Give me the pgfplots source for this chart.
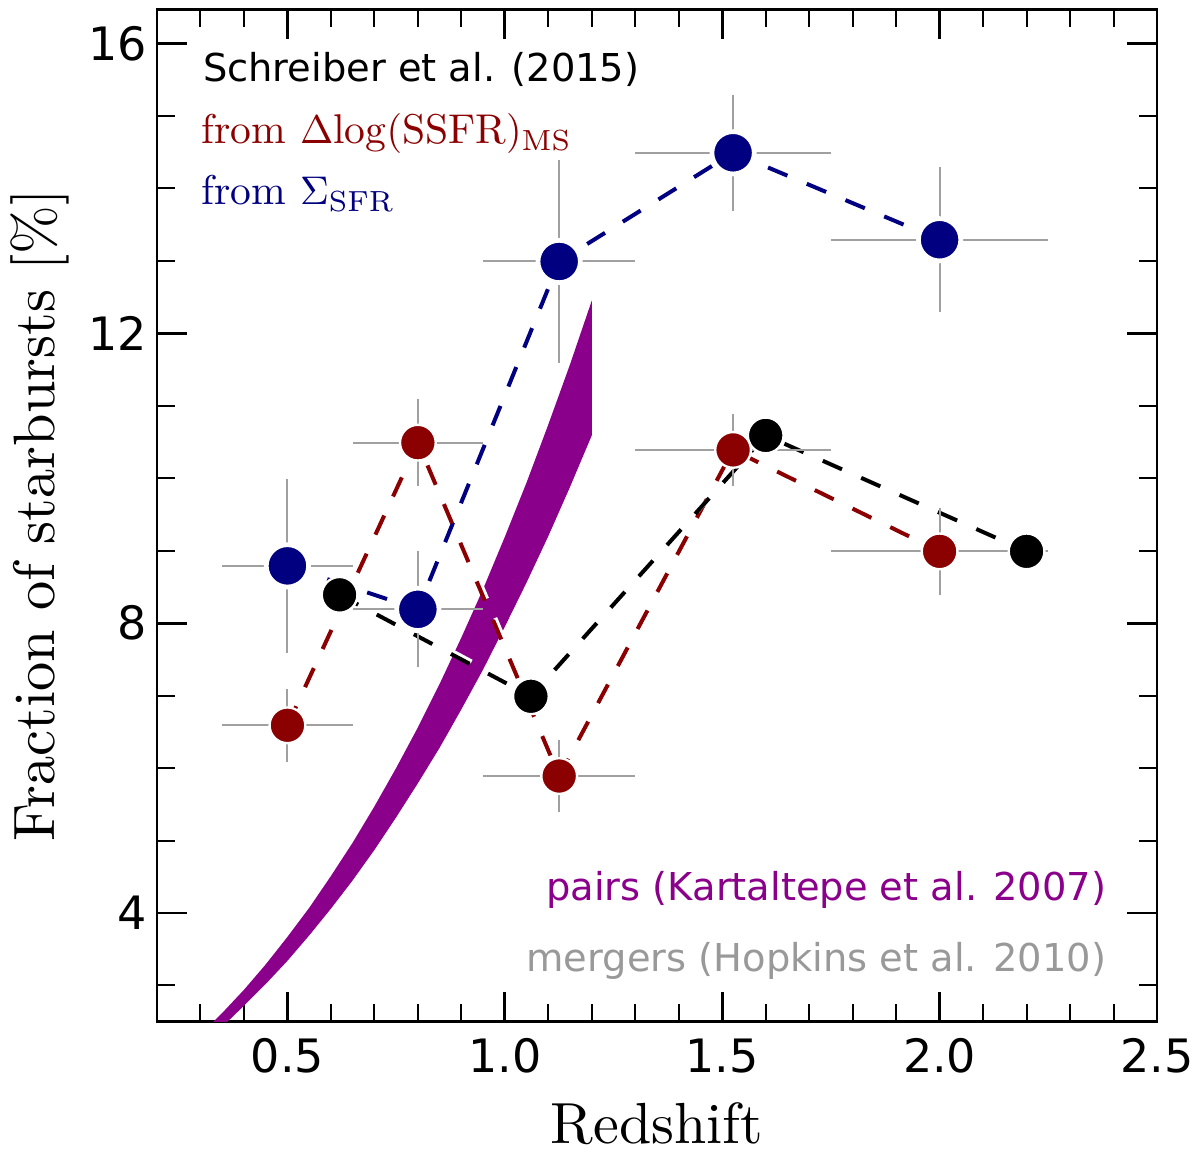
\documentclass[border=0pt]{standalone}
\usepackage{fontspec}
\setsansfont{DejaVu Sans}
\newfontfamily\cmten[Extension=.otf]{lmroman10-regular}
\usepackage{pgfplots}
\pgfplotsset{compat=1.18}
\definecolor{navyc}{RGB}{0,0,128}
\definecolor{redc}{RGB}{139,0,0}
\definecolor{purc}{RGB}{139,0,139}
\definecolor{errc}{RGB}{160,160,160}
\definecolor{txtgray}{RGB}{153,153,153}
\begin{document}
\begin{tikzpicture}
\begin{axis}[
  scale only axis, width=250pt, height=253.1pt,
  xmin=0.2, xmax=2.5, ymin=2.5, ymax=16.47,
  axis line style={line width=0.7pt},
  xtick={0.5,1.0,1.5,2.0,2.5}, xticklabels={0.5,1.0,1.5,2.0,2.5},
  ytick={4,8,12,16}, yticklabels={4,8,12,16},
  minor xtick={0.3,0.4,0.6,0.7,0.8,0.9,1.1,1.2,1.3,1.4,1.6,1.7,1.8,1.9,2.1,2.2,2.3,2.4},
  minor ytick={3,5,6,7,9,10,11,13,14,15},
  tick align=inside, tick pos=both,
  major tick length=7.5pt, minor tick length=4.5pt,
  every major tick/.append style={line width=0.7pt, black},
  every minor tick/.append style={line width=0.5pt, black},
  ticklabel style={font=\fontsize{11.5}{13}\sffamily},
  xticklabel style={anchor=base, yshift=-12.7pt},
  yticklabel style={anchor=east, inner xsep=0pt, xshift=-2.25pt},
  xlabel={Redshift},
  xlabel style={font=\cmten\fontsize{14.5}{17}\selectfont, at={(axis description cs:0.5,-0.1205)}, anchor=base},
  ylabel={Fraction of starbursts [\%]},
  ylabel style={font=\cmten\fontsize{14.6}{17}\selectfont, at={(axis description cs:-0.102,0.5)}, anchor=base},
]
\coordinate (SW) at (rel axis cs:0,0);
\coordinate (NE) at (rel axis cs:1,1);

% pairs band (Kartaltepe et al. 2007)
\addplot[fill=purc, draw=none, mark=none] coordinates {
 (0.30,2.32) (0.35,2.62) (0.40,2.94) (0.45,3.29) (0.50,3.67) (0.55,4.07)
 (0.60,4.51) (0.65,4.97) (0.70,5.47) (0.75,6.00) (0.80,6.56) (0.85,7.16)
 (0.90,7.80) (0.95,8.47) (1.00,9.19) (1.05,9.94) (1.10,10.74) (1.15,11.57)
 (1.20,12.45)
 (1.20,10.59) (1.15,9.88) (1.10,9.20) (1.05,8.56) (1.00,7.95) (0.95,7.36)
 (0.90,6.81) (0.85,6.28) (0.80,5.79) (0.75,5.32) (0.70,4.87) (0.65,4.45)
 (0.60,4.06) (0.55,3.69) (0.50,3.34) (0.45,3.02) (0.40,2.72) (0.35,2.43)
} -- cycle;

% dashed lines with white offset edge
\addplot[white, line width=1pt, dash pattern=on 5.25pt off 5.25pt, xshift=0.55pt, yshift=0.55pt, mark=none]
 coordinates {(0.5,8.79) (0.8,8.19) (1.125,12.99) (1.525,14.49) (2.0,13.29)};
\addplot[navyc, line width=1pt, dash pattern=on 5.25pt off 5.25pt, mark=none]
 coordinates {(0.5,8.79) (0.8,8.19) (1.125,12.99) (1.525,14.49) (2.0,13.29)};
\addplot[white, line width=1pt, dash pattern=on 5.25pt off 5.25pt, xshift=0.55pt, yshift=0.55pt, mark=none]
 coordinates {(0.5,6.59) (0.8,10.49) (1.125,5.89) (1.525,10.39) (2.0,8.99)};
\addplot[redc, line width=1pt, dash pattern=on 5.25pt off 5.25pt, mark=none]
 coordinates {(0.5,6.59) (0.8,10.49) (1.125,5.89) (1.525,10.39) (2.0,8.99)};
\addplot[white, line width=1pt, dash pattern=on 5.25pt off 5.25pt, xshift=0.55pt, yshift=0.55pt, mark=none]
 coordinates {(0.62,8.39) (1.06,6.99) (1.6,10.59) (2.2,8.99)};
\addplot[black, line width=1pt, dash pattern=on 5.25pt off 5.25pt, mark=none]
 coordinates {(0.62,8.39) (1.06,6.99) (1.6,10.59) (2.2,8.99)};

% Schreiber et al. (2015) markers
\addplot[only marks, mark=*, mark size=4.46pt, mark options={fill=black, draw=white, line width=0.58pt}]
 coordinates {(0.62,8.39) (1.06,6.99) (1.6,10.59) (2.2,8.99)};

% from Delta log SSFR
\addplot[only marks, mark=*, mark size=4.46pt, mark options={fill=redc, draw=white, line width=0.58pt},
  error bars/.cd, x dir=both, y dir=both, x explicit, y explicit,
  error bar style={errc, line width=0.5pt}, error mark=none]
 coordinates {
 (0.5,6.59) +- (0.15,0.5)
 (0.8,10.49) +- (0.15,0.6)
 (1.125,5.89) +- (0.175,0.5)
 (1.525,10.39) +- (0.225,0.5)
 (2.0,8.99) +- (0.25,0.6)
 };

% from Sigma SFR
\addplot[only marks, mark=*, mark size=5.29pt, mark options={fill=navyc, draw=white, line width=1.18pt},
  error bars/.cd, x dir=both, y dir=both, x explicit, y explicit,
  error bar style={errc, line width=0.5pt}, error mark=none]
 coordinates {
 (0.5,8.79) +- (0.15,1.2)
 (0.8,8.19) +- (0.15,0.8)
 (1.125,12.99) +- (0.175,1.4)
 (1.525,14.49) +- (0.225,0.8)
 (2.0,13.29) +- (0.25,1.0)
 };

\node[anchor=base west, inner sep=0pt, font=\fontsize{9.6}{11}\sffamily] at (axis cs:0.304,15.47) {Schreiber et al. (2015)};
\node[anchor=base west, inner sep=0pt, text=redc, font=\fontsize{10.4}{12}\selectfont] at (axis cs:0.301,14.62) {from $\Delta\mathrm{log}(\mathrm{SSFR})_{\mathrm{MS}}$};
\node[anchor=base west, inner sep=0pt, text=navyc, font=\fontsize{10.4}{12}\selectfont] at (axis cs:0.301,13.77) {from $\Sigma_{\mathrm{SFR}}$};
\node[anchor=base east, inner sep=0pt, text=purc, font=\fontsize{9.6}{11}\sffamily] at (axis cs:2.385,4.17) {pairs (Kartaltepe et al. 2007)};
\node[anchor=base east, inner sep=0pt, text=txtgray, font=\fontsize{9.6}{11}\sffamily] at (axis cs:2.385,3.19) {mergers (Hopkins et al. 2010)};
\end{axis}
\pgfresetboundingbox
\path[use as bounding box] ([xshift=-39.25pt,yshift=-33.575pt]SW) rectangle ([xshift=10.75pt,yshift=2.325pt]NE);
\end{tikzpicture}
\end{document}
